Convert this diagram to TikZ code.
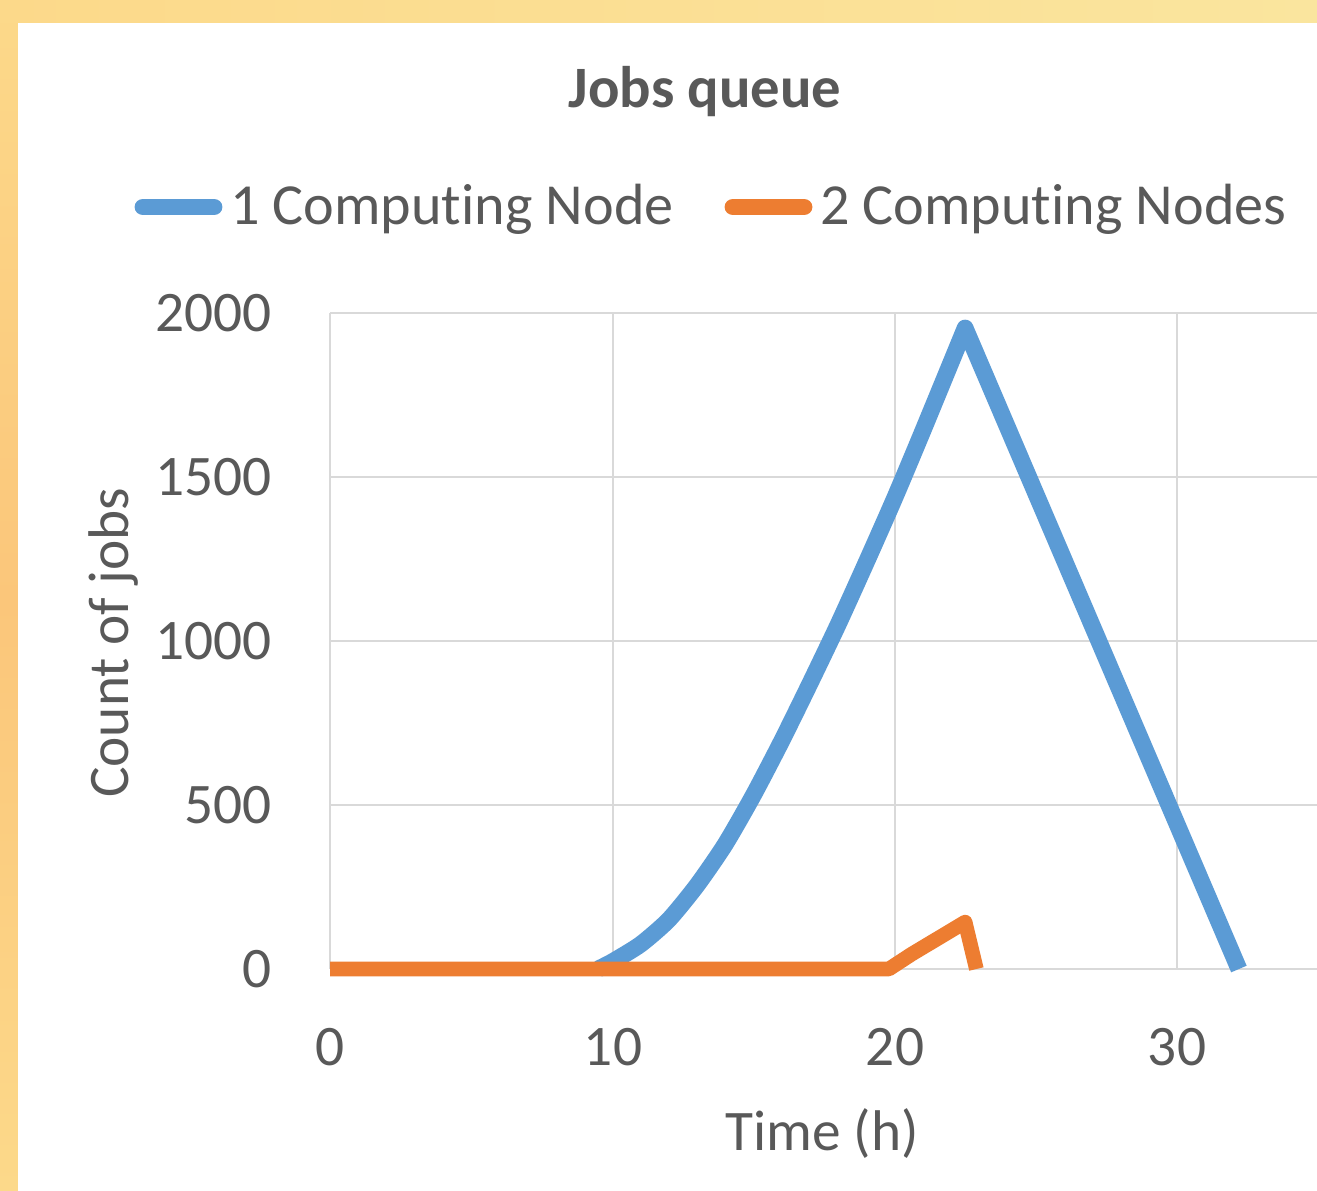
\documentclass[tikz,border=0pt]{standalone}
\usepackage{fontspec}
\setmainfont{Carlito}[Ligatures=NoCommon]
\definecolor{seriesblue}{HTML}{5B9BD5}
\definecolor{seriesorange}{HTML}{ED7D31}
\definecolor{labelgray}{HTML}{595959}
\definecolor{gridgray}{HTML}{D9D9D9}
\definecolor{framegold}{HTML}{FCD98A}
\definecolor{frameorange}{HTML}{FBC67A}
\definecolor{framepale}{HTML}{FAE59E}
\tikzset{
  chart text/.style={text=labelgray, inner sep=0pt, font=\fontsize{43pt}{52pt}\selectfont},
  legend text/.style={chart text, font=\fontsize{43.6pt}{52pt}\selectfont},
  title text/.style={chart text, font=\fontsize{44pt}{52pt}\selectfont\bfseries},
  grid line/.style={draw=gridgray, line width=1.1pt},
  blue series/.style={draw=seriesblue, line width=12.6pt, line join=round},
  orange series/.style={draw=seriesorange, line width=11pt, line join=round},
}
\begin{document}
\begin{tikzpicture}[x=.75pt, y=-.75pt]
	\useasboundingbox (0,0) rectangle (1317,1191);
	\shade[top color=framegold, bottom color=frameorange] (0,0) rectangle (18,600);
	\shade[top color=frameorange, bottom color=framegold] (0,600) rectangle (18,1191);
	\shade[left color=framegold, right color=framepale] (0,0) rectangle (1317,23);
	\fill[white] (18,23) rectangle (1317,1191);
	\foreach \gy in {313,477,641,805,969} \draw[grid line] (330,\gy) -- (1317,\gy);
	\foreach \gx in {330,613,895,1177} \draw[grid line] (\gx,313) -- (\gx,969);
	\node[title text, anchor=base] (title) at (705,108) {Jobs queue};
	\foreach \v/\gy in {0/969,500/805,1000/641,1500/477,2000/313}
		\node[chart text, anchor=east] (ytick\v) at (272,\gy) {\v};
	\foreach \v/\gx in {0/330,10/613,20/895,30/1177}
		\node[chart text, anchor=base] (xtick\v) at (\gx,1065) {\v};
	\node[chart text, anchor=base] (xtitle) at (822,1150) {Time (h)};
	\node[chart text, anchor=base, rotate=90] (ytitle) at (128,643) {Count of jobs};
	\coordinate (blueA) at (143,207); \coordinate (blueB) at (214,207);
	\coordinate (orangeA) at (733,207); \coordinate (orangeB) at (804,207);
	\draw[blue series, line cap=round] (blueA) -- (blueB);
	\draw[orange series, line width=12.6pt, line cap=round] (orangeA) -- (orangeB);
	\node[legend text, anchor=base west] (bluelabel) at (230,225) {1 Computing Node};
	\node[legend text, anchor=base west] (orangelabel) at (820,225) {2 Computing Nodes};
	\begin{scope}[shift={(330,969)}, x=21.17pt, y=.246pt]
		\draw[blue series] plot[smooth, tension=.4] coordinates {(9.5,0) (10,22) (11,75) (12,150) (13,255) (14,380) (15,530) (16,695) (17,870) (18,1050) (19,1240) (20,1435) (21,1640) (22.5,1954)} -- (32.2,0);
		\draw[orange series] plot coordinates {(0,0) (19.8,0) (20.6,45) (22.5,143) (22.9,0)};
	\end{scope}
\end{tikzpicture}
\end{document}
